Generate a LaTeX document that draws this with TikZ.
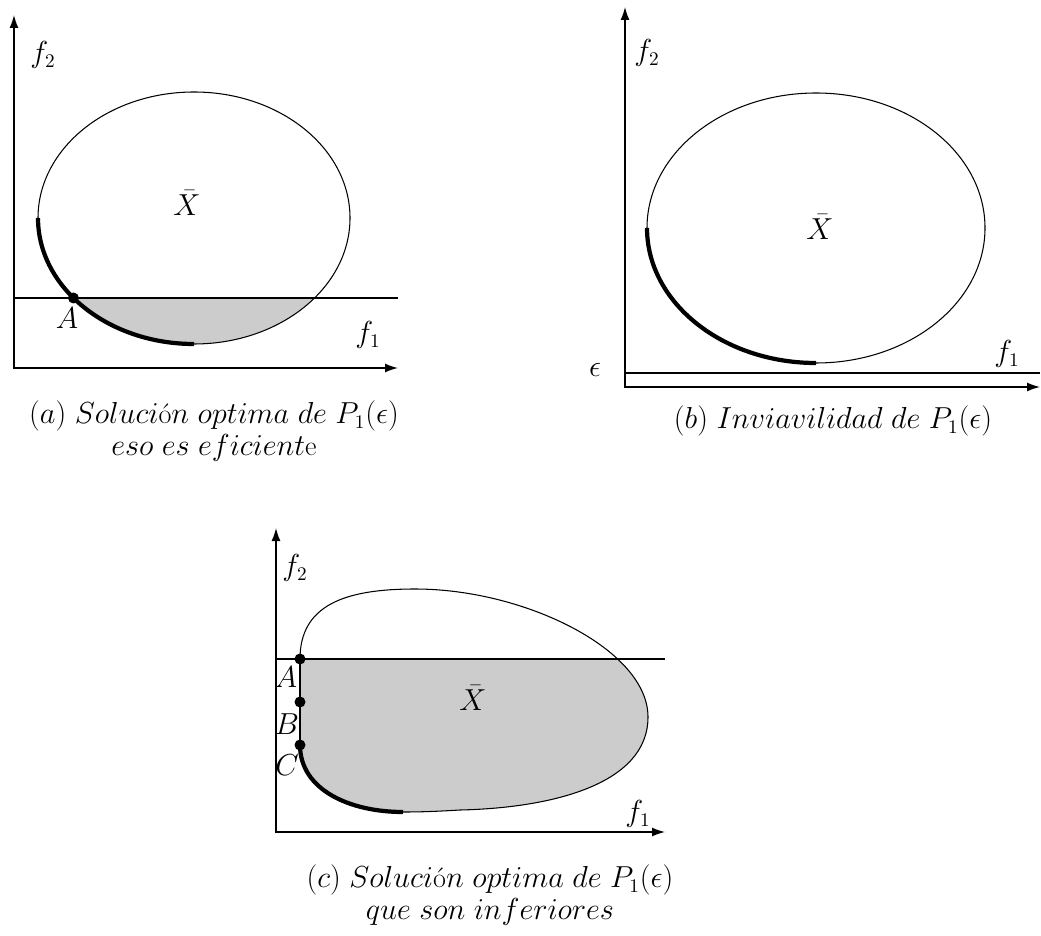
\documentclass[tikz,border=0pt]{standalone}
\usetikzlibrary{arrows.meta}
\begin{document}
\begin{tikzpicture}[
  every node/.style={font=\fontsize{16}{18}\selectfont},
  axes/.style={{Latex[length=2.6mm,width=1.8mm]}-{Latex[length=2.6mm,width=1.8mm]}, line width=0.8pt},
  rim/.style={line width=0.6pt},
  front/.style={line width=2.4pt},
  region/.style={fill=black!20},
  dot/.style={circle, fill=black, inner sep=0pt, minimum size=2.2mm},
]
\useasboundingbox (0,0) rectangle (20.82,18.70);

% (a) optimum that is efficient
\fill[region] (1.469,12.74)
  arc[start angle=219.4, end angle=320.6, x radius=3.12, y radius=2.52] -- cycle;
\draw[rim] (3.88,14.34) ellipse [x radius=3.12, y radius=2.52];
\draw[front] (0.76,14.34)
  arc[start angle=180, end angle=270, x radius=3.12, y radius=2.52];
\draw[rim] (0.28,12.74) -- (7.96,12.74);
\draw[axes] (0.28,18.40) |- (7.96,11.34);

\node (fa2) at (0.86,17.60) {$f_2$};
\node (fa1) at (7.36,12.00) {$f_1$};
\node (xa) at (3.74,14.64) {$\bar{X}$};
\node[dot] (pa) at (1.469,12.74) {};
\node (la) at (1.34,12.34) {$A$};
\node[align=center] (capa) at (4.28,10.08)
  {$(a)\ Soluci$ó$n\ optima\ de\ P_1(\epsilon)$\\$eso\ es\ eficient$e};

% (b) infeasible
\draw[rim] (16.32,14.14) ellipse [x radius=3.38, y radius=2.70];
\draw[front] (12.94,14.14)
  arc[start angle=180, end angle=270, x radius=3.38, y radius=2.70];
\draw[rim] (12.50,11.24) -- (20.80,11.24);
\draw[axes] (12.50,18.56) |- (20.80,10.96);

\node (fb2) at (12.94,17.64) {$f_2$};
\node (fb1) at (20.14,11.62) {$f_1$};
\node (eb) at (11.90,11.30) {$\epsilon$};
\node (xb) at (16.40,14.16) {$\bar{X}$};
\node (capb) at (16.66,10.28) {$(b)\ Inviavilidad\ de\ P_1(\epsilon)$};

% (c) optima that are not efficient
\begin{scope}
  \clip (5.52,2.06) rectangle (13.30,5.52);
  \fill[region] (6.00,5.52) .. controls (6.00,6.60) and (6.90,6.92) .. (8.30,6.92)
    .. controls (10.50,6.92) and (12.96,5.70) .. (12.96,4.36)
    .. controls (12.96,3.00) and (11.00,2.54) .. (9.20,2.50)
    .. controls (8.70,2.47) and (8.40,2.46) .. (8.06,2.46)
    .. controls (7.00,2.46) and (6.00,2.90) .. (6.00,3.80) -- cycle;
\end{scope}
\draw[rim] (6.00,5.52) .. controls (6.00,6.60) and (6.90,6.92) .. (8.30,6.92)
  .. controls (10.50,6.92) and (12.96,5.70) .. (12.96,4.36)
  .. controls (12.96,3.00) and (11.00,2.54) .. (9.20,2.50)
  .. controls (8.70,2.47) and (8.40,2.46) .. (8.06,2.46);
\draw[front] (8.06,2.46) .. controls (7.00,2.46) and (6.00,2.90) .. (6.00,3.80);
\draw[rim] (6.00,3.80) -- (6.00,5.52);
\draw[rim] (5.52,5.52) -- (13.30,5.52);
\draw[axes] (5.52,8.14) |- (13.30,2.06);

\node (fc2) at (5.90,7.34) {$f_2$};
\node (fc1) at (12.76,2.42) {$f_1$};
\node (xc) at (9.46,4.74) {$\bar{X}$};
\node[dot] (pA) at (6.00,5.52) {};
\node[dot] (pB) at (6.00,4.66) {};
\node[dot] (pC) at (6.00,3.80) {};
\node (lA) at (5.72,5.16) {$A$};
\node (lB) at (5.74,4.22) {$B$};
\node (lC) at (5.74,3.40) {$C$};
\node[align=center] (capc) at (9.80,0.80)
  {$(c)\ Soluci$ó$n\ optima\ de\ P_1(\epsilon)$\\$que\ son\ inferiores$};
\end{tikzpicture}
\end{document}
